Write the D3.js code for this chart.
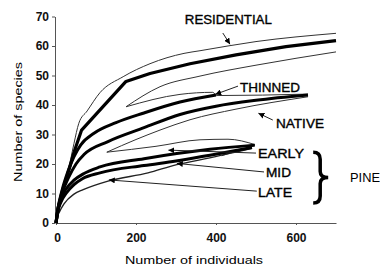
<!DOCTYPE html>
<html>
<head>
<meta charset="utf-8">
<script src="https://cdn.jsdelivr.net/npm/d3@7/dist/d3.min.js"></script>
<style>
  body { margin: 0; background: #fff; }
  svg { display: block; font-family: Arial, "Liberation Sans", sans-serif; }
</style>
</head>
<body>
<div id="chart"></div>
<script>
// rarefaction curves, points are [individuals, species]
const residential = [[0, 0], [5, 5], [15, 10.5], [28, 16], [45, 24], [64, 31.5], [175, 48], [235, 50.7], [335, 54], [450, 57], [575, 59.8], [700, 61.8]];
const residentialUpper = [[0, 0], [10, 7], [28, 16], [45, 27], [57, 33.8], [78, 38], [110, 44.2], [168, 49.6], [235, 54], [320, 57.5], [360, 58.4], [500, 61.5], [700, 64.3]];
const residentialLower = [[175, 39.4], [260, 46.2], [360, 49.8], [500, 53.5], [700, 58]];

const thinned = [[0, 0], [5, 5], [15, 11], [30, 17.5], [45, 22.5], [62, 26.5], [95, 30.4], [150, 34], [220, 37.3], [310, 41], [400, 43.4]];
const thinnedUpper = [[175, 39.4], [310, 43.6], [392, 44.3], [402, 43.2], [630, 43.7]];

const native = [[0, 0], [5, 4.5], [15, 10], [30, 15], [50, 20], [70, 23.2], [130, 27.6], [220, 32.3], [310, 36.8], [400, 39.6], [500, 41.6], [630, 43.4]];
const nativeLower = [[127, 24], [200, 28.3], [260, 31.5], [335, 35], [450, 38.6], [630, 42.8]];

const early = [[0, 0], [4, 4], [12, 8], [25, 11.5], [45, 14.5], [70, 16.8], [110, 19], [220, 21.8], [385, 25], [497, 26.4]];
const earlyUpper = [[127, 24], [250, 26], [360, 28.2], [430, 28.4], [497, 26.6]];
const earlyLower = [[414, 22.8], [497, 26.2]];

const mid = [[0, 0], [4, 3.5], [12, 7], [25, 10], [45, 13], [66, 15], [110, 17], [220, 19.5], [300, 21], [385, 23], [490, 25.6]];
const late = [[0, 0], [3, 2], [8, 3.6], [20, 6.5], [45, 9.8], [68, 11.3], [130, 14.2], [230, 17], [302, 19.8], [360, 21.4], [490, 25.3]];

const xTicks = [0, 200, 400, 600];
const yTicks = [0, 10, 20, 30, 40, 50, 60, 70];

const width = 380;
const height = 271;

const x = d3.scaleLinear().domain([0, 700]).range([56, 336]);
const y = d3.scaleLinear().domain([0, 70]).range([223, 16.5]);

const svg = d3.select(`#chart`).append(`svg`)
    .attr(`width`, width)
    .attr(`height`, height);

svg.append(`defs`).append(`marker`)
    .attr(`id`, `arrow`)
    .attr(`viewBox`, `0 0 6 6`)
    .attr(`refX`, 6)
    .attr(`refY`, 3)
    .attr(`markerWidth`, 6)
    .attr(`markerHeight`, 6)
    .attr(`markerUnits`, `userSpaceOnUse`)
    .attr(`orient`, `auto`)
  .append(`path`)
    .attr(`d`, `M0,0L6,3L0,6z`)
    .attr(`fill`, `#000`);

// axes
const yAxis = svg.append(`g`)
    .attr(`transform`, `translate(${x(0) - 1},0)`)
    .call(d3.axisLeft(y).tickValues(yTicks).tickSize(3).tickSizeOuter(0).tickPadding(3));

const xAxis = svg.append(`g`)
    .attr(`transform`, `translate(0,${y(0)})`)
    .call(d3.axisBottom(x).tickValues(xTicks).tickSize(2).tickSizeOuter(0).tickPadding(8));

[yAxis, xAxis].forEach((g) => {
  g.select(`.domain`).attr(`stroke`, `#555`);
  g.selectAll(`.tick line`).attr(`stroke`, `#555`);
  g.selectAll(`text`)
      .attr(`font-size`, 12)
      .attr(`font-weight`, `bold`)
      .attr(`fill`, `#111`);
});
xAxis.select(`.tick text`).attr(`dx`, 1);

svg.append(`text`)
    .attr(`x`, 194)
    .attr(`y`, 264)
    .attr(`text-anchor`, `middle`)
    .attr(`font-size`, 11)
    .attr(`textLength`, 138)
    .attr(`lengthAdjust`, `spacingAndGlyphs`)
    .text(`Number of individuals`);

svg.append(`text`)
    .attr(`transform`, `translate(22,122) rotate(-90)`)
    .attr(`text-anchor`, `middle`)
    .attr(`font-size`, 11)
    .attr(`textLength`, 120)
    .attr(`lengthAdjust`, `spacingAndGlyphs`)
    .text(`Number of species`);

// curves
const line = d3.line()
    .x((d) => x(d[0]))
    .y((d) => y(d[1]))
    .curve(d3.curveMonotoneX);

const thin = [residentialUpper, residentialLower, thinnedUpper, nativeLower, earlyUpper, earlyLower];
const thick = [thinned, native, early, mid];

svg.append(`g`).selectAll(`path`)
    .data(thin)
  .enter().append(`path`)
    .attr(`d`, line)
    .attr(`fill`, `none`)
    .attr(`stroke`, `#333`)
    .attr(`stroke-width`, 1);

svg.append(`path`)
    .datum(late)
    .attr(`d`, line)
    .attr(`fill`, `none`)
    .attr(`stroke`, `#222`)
    .attr(`stroke-width`, 1.4);

svg.append(`g`).selectAll(`path`)
    .data(thick)
  .enter().append(`path`)
    .attr(`d`, line)
    .attr(`fill`, `none`)
    .attr(`stroke`, `#000`)
    .attr(`stroke-width`, 3);

svg.append(`path`)
    .datum(residential)
    .attr(`d`, line.curve(d3.curveLinear))
    .attr(`fill`, `none`)
    .attr(`stroke`, `#000`)
    .attr(`stroke-width`, 3.2)
    .attr(`stroke-linejoin`, `round`);

// labels and pointers, placed in data units
const labels = [
  { text: `RESIDENTIAL`, at: [322, 67.5], w: 87 },
  { text: `THINNED`, at: [460, 44.4], w: 60 },
  { text: `NATIVE`, at: [550, 32.2], w: 48 },
  { text: `EARLY`, at: [505, 22], w: 46 },
  { text: `MID`, at: [525, 15.6], w: 25 },
  { text: `LATE`, at: [505, 8.8], w: 34 },
  { text: `PINE`, at: [735, 13.9], w: 30 }
];

const pointers = [
  { from: [417, 64.4], to: [435, 60.6] },
  { from: [455, 46.4], to: [398, 43.6] },
  { from: [542, 34.9], to: [506, 37.2] },
  { from: [500, 23.7], to: [281, 24.7] },
  { from: [520, 17.3], to: [302, 20.2] },
  { from: [502, 10.8], to: [132, 14.6] }
];

svg.append(`g`).selectAll(`line`)
    .data(pointers)
  .enter().append(`line`)
    .attr(`x1`, (d) => x(d.from[0]))
    .attr(`y1`, (d) => y(d.from[1]))
    .attr(`x2`, (d) => x(d.to[0]))
    .attr(`y2`, (d) => y(d.to[1]))
    .attr(`stroke`, `#222`)
    .attr(`stroke-width`, 1)
    .attr(`marker-end`, `url(#arrow)`);

svg.append(`g`).selectAll(`text`)
    .data(labels)
  .enter().append(`text`)
    .attr(`x`, (d) => x(d.at[0]))
    .attr(`y`, (d) => y(d.at[1]))
    .attr(`font-size`, 13)
    .attr(`textLength`, (d) => d.w)
    .attr(`lengthAdjust`, `spacingAndGlyphs`)
    .attr(`fill`, `#000`)
    .attr(`stroke`, (d) => d.text === `PINE` ? `none` : `#000`)
    .attr(`stroke-width`, 0.35)
    .text((d) => d.text);

// brace grouping the pine stands
const bx = x(643);
const bTop = y(24);
const bBot = y(6.8);
const bMid = (bTop + bBot) / 2;
const bIn = bx + 7;

svg.append(`path`)
    .attr(`d`, `M${bx},${bTop}Q${bIn},${bTop} ${bIn},${bTop + 7}L${bIn},${bMid - 6}Q${bIn},${bMid} ${bx + 15},${bMid}Q${bIn},${bMid} ${bIn},${bMid + 6}L${bIn},${bBot - 7}Q${bIn},${bBot} ${bx},${bBot}`)
    .attr(`fill`, `none`)
    .attr(`stroke`, `#000`)
    .attr(`stroke-width`, 3.5);
</script>
</body>
</html>
